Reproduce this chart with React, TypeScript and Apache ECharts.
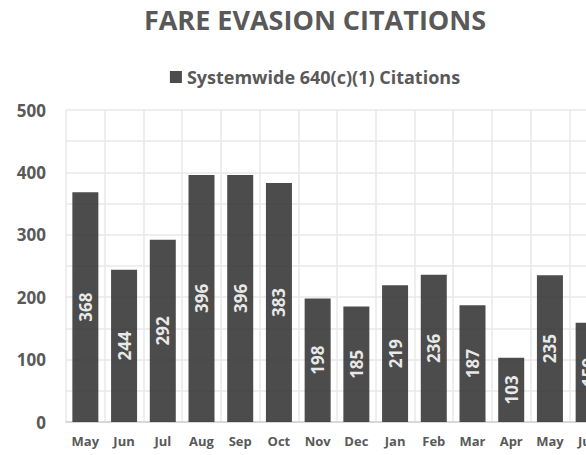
import React, { useEffect, useRef } from "react";
import * as echarts from "echarts";

const titleText = "FARE EVASION CITATIONS";
const seriesName = "Systemwide 640(c)(1) Citations";
const months = ["May", "Jun", "Jul", "Aug", "Sep", "Oct", "Nov", "Dec", "Jan", "Feb", "Mar", "Apr", "May", "Jun"];
const citations = [368, 244, 292, 396, 396, 383, 198, 185, 219, 236, 187, 103, 235, 159];
const yMin = 0;
const yMax = 500;
const yInterval = 100;

const FONT = "'Open Sans', sans-serif";
const TEXT = "#595959";

export default function App() {
  const ref = useRef<HTMLDivElement>(null);
  useEffect(() => {
    if (!ref.current) return;
    const chart = echarts.init(ref.current, undefined, { renderer: "svg" });
    chart.setOption({
      animation: false,
      backgroundColor: "#ffffff",
      title: {
        text: titleText,
        left: "center",
        top: 1,
        textStyle: { fontFamily: FONT, fontSize: 27, fontWeight: "bold", color: TEXT },
      },
      legend: {
        top: 63,
        left: "center",
        itemWidth: 12,
        itemHeight: 12,
        itemGap: 5,
        icon: "rect",
        textStyle: { fontFamily: FONT, fontSize: 18, fontWeight: "bold", color: TEXT },
        data: [seriesName],
      },
      grid: { left: 66, right: 22, top: 110, bottom: 33 },
      xAxis: {
        type: "category",
        data: months,
        axisLine: { show: true, lineStyle: { color: "#d0d0d0", width: 1.5 } },
        axisTick: { show: false },
        axisLabel: { fontFamily: FONT, fontSize: 13, fontWeight: "bold", color: TEXT, margin: 12, interval: 0 },
        splitLine: { show: true, interval: 0, lineStyle: { color: "#e8e8e8", width: 1.5 } },
      },
      yAxis: {
        type: "value",
        min: yMin,
        max: yMax,
        interval: yInterval,
        axisLine: { show: false },
        axisTick: { show: false },
        axisLabel: { fontFamily: FONT, fontSize: 17, fontWeight: "bold", color: TEXT, margin: 20 },
        splitLine: { show: true, lineStyle: { color: "#e8e8e8", width: 1.5 } },
        minorTick: { show: false, splitNumber: 2 },
        minorSplitLine: { show: true, lineStyle: { color: "#e8e8e8", width: 1.5 } },
      },
      series: [
        {
          name: seriesName,
          type: "bar",
          data: citations,
          barWidth: 26,
          itemStyle: { color: "#333333", opacity: 0.88 },
          label: {
            show: true,
            position: "inside",
            rotate: 90,
            fontFamily: FONT,
            fontSize: 17,
            fontWeight: "bold",
            color: "#ffffff",
          },
        },
      ],
    });
    return () => chart.dispose();
  }, []);
  return (
    <div style={{ position: "fixed", left: 0, top: 0, width: 586, height: 455, overflow: "hidden", background: "#fff" }}>
      <div ref={ref} style={{ width: 630, height: 455 }} />
    </div>
  );
}
